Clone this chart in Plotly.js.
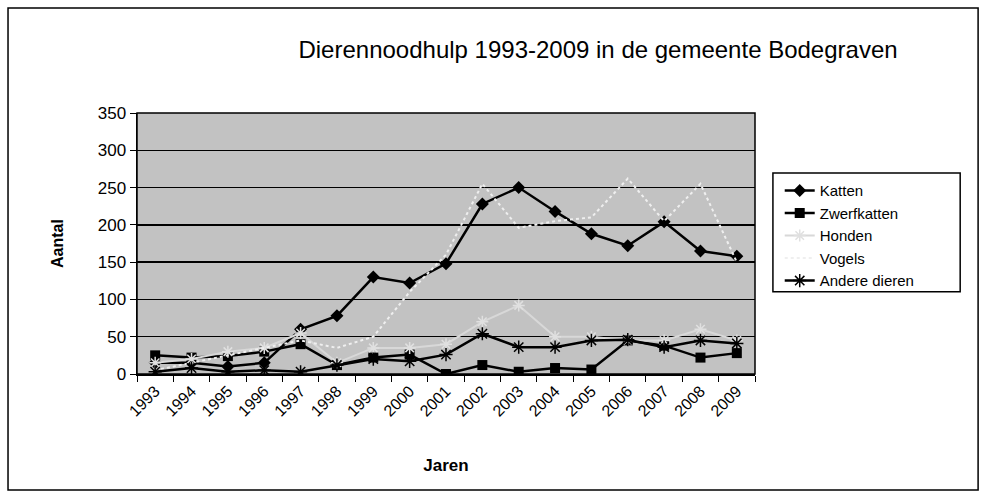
<!DOCTYPE html>
<html><head><meta charset="utf-8">
<script src="https://cdn.plot.ly/plotly-3.0.1.min.js"></script>
<style>html,body{margin:0;padding:0;background:#fff}#c{width:986px;height:498px}</style>
</head><body><div id="c"></div>
<script>
const years = ['1993','1994','1995','1996','1997','1998','1999','2000','2001','2002','2003','2004','2005','2006','2007','2008','2009'];
const katten = [15, 15, 10, 15, 60, 78, 130, 122, 148, 228, 250, 218, 188, 172, 204, 165, 158];
const zwerfkatten = [25, 22, 24, 30, 40, 12, 22, 26, 0, 12, 3, 8, 6, 45, 38, 22, 28];
const honden = [15, 20, 30, 35, 55, 15, 35, 35, 40, 70, 92, 50, 50, 45, 45, 60, 45];
const vogels = [5, 15, 25, 35, 45, 35, 50, 110, 160, 255, 196, 205, 210, 262, 205, 255, 150];
const andere = [3, 8, 3, 5, 3, 12, 20, 17, 26, 54, 36, 36, 45, 46, 36, 45, 41];

const traces = [
  {name:'Katten', x:years, y:katten, mode:'lines+markers', line:{color:'#000', width:2.5}, marker:{symbol:'diamond', size:10, color:'#000'}},
  {name:'Zwerfkatten', x:years, y:zwerfkatten, mode:'lines+markers', line:{color:'#000', width:2.5}, marker:{symbol:'square', size:10, color:'#000'}},
  {name:'Honden', x:years, y:honden, mode:'lines+markers', line:{color:'#d8d8d8', width:2}, marker:{symbol:'asterisk-open', size:10, color:'#e0e0e0', line:{color:'#e0e0e0', width:1.5}}},
  {name:'Vogels', x:years, y:vogels, mode:'lines', line:{color:'#efefef', width:2, dash:'dot'}},
  {name:'Andere dieren', x:years, y:andere, mode:'lines+markers', line:{color:'#000', width:2.5}, marker:{symbol:'asterisk-open', size:11, color:'#000', line:{color:'#000', width:1.5}}}
];

const layout = {
  width:986, height:498,
  margin:{l:137, r:231, t:113, b:124},
  paper_bgcolor:'#fff', plot_bgcolor:'#c2c2c2',
  font:{family:'Liberation Sans, Arial, sans-serif', color:'#000'},
  title:{text:'Dierennoodhulp 1993-2009 in de gemeente Bodegraven', font:{size:24, color:'#000'}, xref:'paper', x:0.746, xanchor:'center', yref:'container', y:0.9, yanchor:'middle'},
  xaxis:{type:'category', range:[-0.5, 16.5], tickson:'boundaries', ticks:'outside', ticklen:6, tickcolor:'#000', showgrid:false,
         showline:true, linecolor:'#000', linewidth:1.5, tickangle:-45, tickfont:{size:16},
         title:{text:'<b>Jaren</b>', font:{size:17}, standoff:40}, mirror:false},
  yaxis:{range:[0,350], dtick:50, showgrid:true, gridcolor:'#000', gridwidth:1.3, zeroline:false,
         showline:true, linecolor:'#000', linewidth:1.5, ticks:'outside', ticklen:6, tickcolor:'#000', tickfont:{size:17},
         title:{text:'<b>Aantal</b>', font:{size:16}, standoff:30}},
  legend:{x:1.04, xanchor:'left', y:0.765, yanchor:'top', bgcolor:'rgba(0,0,0,0)', borderwidth:0,
          font:{size:15}, tracegroupgap:2, itemwidth:30},
  showlegend:true,
  shapes:[
    {type:'rect', xref:'paper', yref:'paper', x0:-0.2087, x1:1.361, y0:-0.444, y1:1.402, line:{color:'#000', width:1.5}, layer:'below'},
    {type:'rect', xref:'paper', yref:'paper', x0:0, x1:1, y0:0, y1:1, line:{color:'#000', width:1.5}},
    {type:'rect', xref:'paper', yref:'paper', x0:1.029, x1:1.332, y0:0.315, y1:0.770, fillcolor:'#fff', line:{color:'#000', width:1.5}}
  ]
};
Plotly.newPlot('c', traces, layout, {displayModeBar:false, staticPlot:true});
</script></body></html>
